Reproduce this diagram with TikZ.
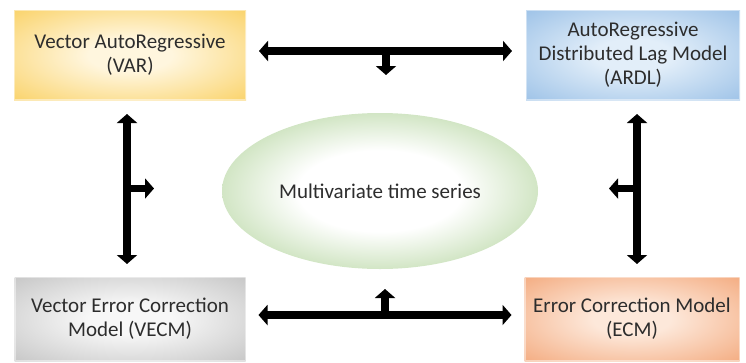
\documentclass[tikz,border=0pt]{standalone}
\usepackage{fontspec}
\setmainfont{Carlito}
\usetikzlibrary{arrows.meta,shapes.geometric}

\definecolor{txt}{RGB}{45,45,45}
\definecolor{yelO}{RGB}{250,212,110}
\definecolor{yelI}{RGB}{255,246,222}
\definecolor{bluO}{RGB}{160,196,232}
\definecolor{bluI}{RGB}{226,238,249}
\definecolor{gryO}{RGB}{200,200,200}
\definecolor{gryI}{RGB}{247,247,247}
\definecolor{orgO}{RGB}{244,174,132}
\definecolor{orgI}{RGB}{253,232,218}
\definecolor{grnO}{RGB}{172,208,148}

% soft radial fills: pale centre, full colour reached near the rim (about 35bp)
\pgfdeclareradialshading{yelshade}{\pgfpoint{0bp}{0bp}}
  {color(0bp)=(yelI); color(9bp)=(yelI); color(35bp)=(yelO); color(50bp)=(yelO)}
\pgfdeclareradialshading{blushade}{\pgfpoint{0bp}{0bp}}
  {color(0bp)=(bluI); color(9bp)=(bluI); color(35bp)=(bluO); color(50bp)=(bluO)}
\pgfdeclareradialshading{gryshade}{\pgfpoint{0bp}{0bp}}
  {color(0bp)=(gryI); color(9bp)=(gryI); color(35bp)=(gryO); color(50bp)=(gryO)}
\pgfdeclareradialshading{orgshade}{\pgfpoint{0bp}{0bp}}
  {color(0bp)=(orgI); color(9bp)=(orgI); color(35bp)=(orgO); color(50bp)=(orgO)}
\pgfdeclareradialshading{grnshade}{\pgfpoint{0bp}{0bp}}
  {color(0bp)=(white); color(13bp)=(white); color(35bp)=(grnO); color(50bp)=(grnO)}

\tikzset{
  labelfont/.style={text=txt, font=\fontsize{21}{24}\selectfont},
  model/.style={rectangle, minimum width=#1, align=center, labelfont, inner sep=0pt,
    draw=white, draw opacity=0.45, line width=2pt},
  bar/.style={line width=7.5pt, draw=black},
  tip/.tip={Triangle[width=20pt,length=9pt]},
  dblarrow/.style={bar, tip-tip},
  onearrow/.style={bar, -tip},
}

\begin{document}
\begin{tikzpicture}[x=1pt,y=-1pt]
  \useasboundingbox (0,0) rectangle (746,362);

  % model boxes
  \node[model=232pt, minimum height=90pt, shading=yelshade]
    (var) at (130,55) {Vector AutoRegressive\\(VAR)};
  \node[model=214pt, minimum height=90pt, shading=blushade]
    (ardl) at (633,55) {AutoRegressive\\Distributed Lag Model\\(ARDL)};
  \node[model=231pt, minimum height=84pt, shading=gryshade]
    (vecm) at (130,319) {Vector Error Correction\\Model (VECM)};
  \node[model=215pt, minimum height=84pt, shading=orgshade]
    (ecm) at (632,319) {Error Correction Model\\(ECM)};

  % central ellipse
  \node[ellipse, minimum width=316pt, minimum height=156pt, inner sep=0pt,
    shading=grnshade, labelfont] (mts) at (380,191) {Multivariate time series};

  % horizontal links
  \draw[dblarrow, shorten <=12pt, shorten >=13pt]
    ([yshift=4pt]var.east) -- coordinate (tmid) ([yshift=4pt]ardl.west);
  \draw[onearrow] (tmid) -- ++(0,24);
  \draw[dblarrow, shorten <=12pt, shorten >=12pt]
    ([yshift=4pt]vecm.east) -- coordinate (bmid) ([yshift=4pt]ecm.west);
  \draw[onearrow] (bmid) -- ++(0,-26);

  % vertical links
  \draw[dblarrow, shorten <=13pt, shorten >=12pt]
    ([xshift=-3pt]var.south) -- coordinate (lmid) ([xshift=-3pt]vecm.north);
  \draw[onearrow] (lmid) -- ++(27,0);
  \draw[dblarrow, shorten <=13pt, shorten >=12pt]
    ([xshift=4pt]ardl.south) -- coordinate (rmid) ([xshift=5pt]ecm.north);
  \draw[onearrow] (rmid) -- ++(-28,0);
\end{tikzpicture}
\end{document}
